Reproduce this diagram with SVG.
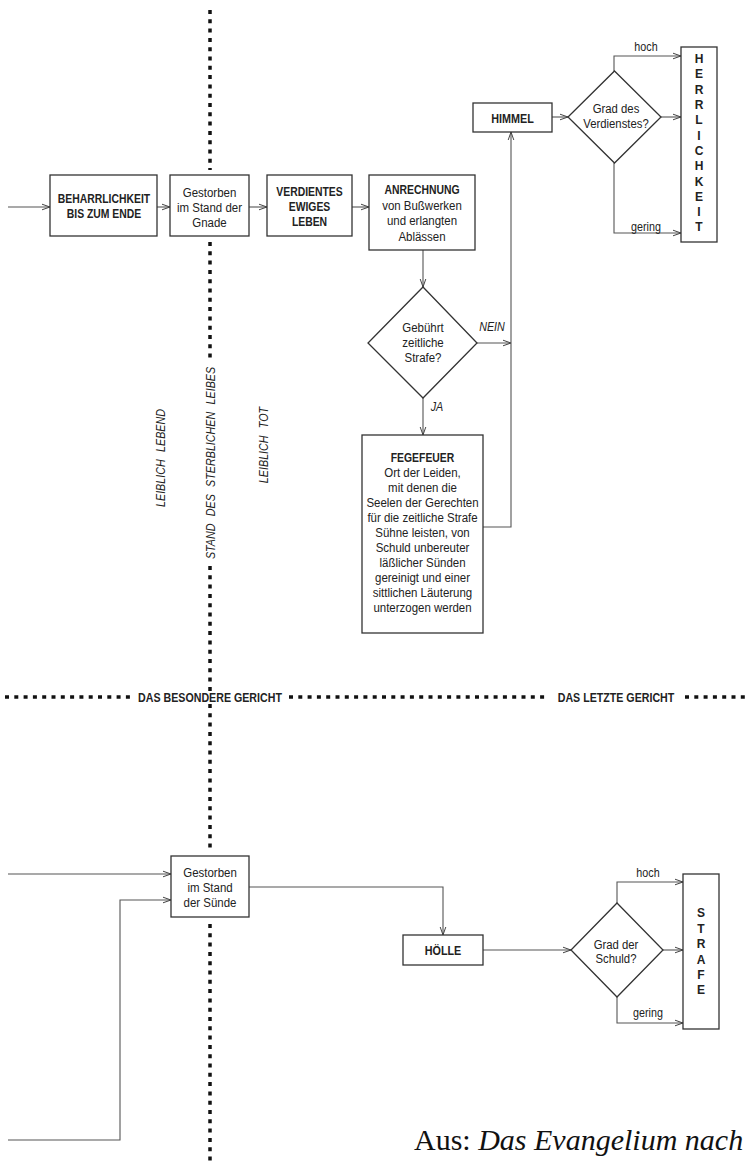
<svg xmlns="http://www.w3.org/2000/svg" width="749" height="1162" viewBox="0 0 749 1162">
<defs>
<marker id="arr" markerWidth="10" markerHeight="8" refX="9" refY="4" orient="auto" markerUnits="userSpaceOnUse">
<path d="M1,1.2 L9,4 L1,6.8" fill="none" stroke="#444" stroke-width="1"/>
</marker>
<style>
.box{fill:#fff;stroke:#333;stroke-width:1.3}
.ln{fill:none;stroke:#555;stroke-width:1.1}
.dot{fill:none;stroke:#111;stroke-width:3.5;stroke-dasharray:4 5.3}
text{font-family:"Liberation Sans",Arial,sans-serif;fill:#222;text-anchor:middle}
.t{font-size:13.5px}
.b{font-size:13.5px;font-weight:bold}
.i{font-size:12.5px;font-style:italic}
.s{font-size:12.5px}
.h{font-size:12px;font-weight:bold}
.g{font-size:13px;font-weight:bold}
</style>
</defs>
<rect width="749" height="1162" fill="#fff"/>

<g id="dividers">
<line class="dot" x1="210" y1="10" x2="210" y2="170"/>
<line class="dot" x1="210" y1="242" x2="210" y2="360"/>
<line class="dot" x1="210" y1="566" x2="210" y2="692"/>
<line class="dot" x1="210" y1="704" x2="210" y2="852"/>
<line class="dot" x1="210" y1="924" x2="210" y2="1162"/>
<line class="dot" x1="5" y1="697" x2="132" y2="697"/>
<line class="dot" x1="289" y1="697" x2="548" y2="697"/>
<line class="dot" x1="685" y1="697" x2="749" y2="697"/>
<text class="i" transform="translate(214.5,463) rotate(-90) scale(0.86,1)" style="word-spacing:5px">STAND DES STERBLICHEN LEIBES</text>
<text class="i" transform="translate(164.5,458) rotate(-90) scale(0.86,1)" style="word-spacing:5px">LEIBLICH LEBEND</text>
<text class="i" transform="translate(267.5,445) rotate(-90) scale(0.86,1)" style="word-spacing:5px">LEIBLICH TOT</text>
<text class="g" transform="translate(210,701.5) scale(0.82,1)">DAS BESONDERE GERICHT</text>
<text class="g" transform="translate(616,701.5) scale(0.82,1)">DAS LETZTE GERICHT</text>
</g>

<g id="connectors">
<line class="ln" x1="8" y1="207" x2="50" y2="207" marker-end="url(#arr)"/>
<line class="ln" x1="157" y1="207" x2="170" y2="207" marker-end="url(#arr)"/>
<line class="ln" x1="249" y1="207" x2="267" y2="207" marker-end="url(#arr)"/>
<line class="ln" x1="352" y1="207" x2="369" y2="207" marker-end="url(#arr)"/>
<line class="ln" x1="423" y1="250" x2="423" y2="287" marker-end="url(#arr)"/>
<line class="ln" x1="477" y1="343" x2="511" y2="343" marker-end="url(#arr)"/>
<line class="ln" x1="423" y1="398" x2="423" y2="435" marker-end="url(#arr)"/>
<polyline class="ln" points="483,527 511,527 511,132" marker-end="url(#arr)"/>
<line class="ln" x1="552" y1="117" x2="568" y2="117" marker-end="url(#arr)"/>
<polyline class="ln" points="614,71 614,56 681,56" marker-end="url(#arr)"/>
<line class="ln" x1="661" y1="117" x2="681" y2="117" marker-end="url(#arr)"/>
<polyline class="ln" points="614,163 614,233 681,233" marker-end="url(#arr)"/>
<line class="ln" x1="8" y1="874" x2="171" y2="874" marker-end="url(#arr)"/>
<polyline class="ln" points="8,1140 120,1140 120,900 171,900" marker-end="url(#arr)"/>
<polyline class="ln" points="249,887 443,887 443,935" marker-end="url(#arr)"/>
<line class="ln" x1="483" y1="950" x2="571" y2="950" marker-end="url(#arr)"/>
<polyline class="ln" points="617,903 617,882 683,882" marker-end="url(#arr)"/>
<line class="ln" x1="663" y1="950" x2="683" y2="950" marker-end="url(#arr)"/>
<polyline class="ln" points="617,997 617,1023 683,1023" marker-end="url(#arr)"/>
<text class="i" transform="translate(492,331) scale(0.86,1)">NEIN</text>
<text class="i" transform="translate(437,411) scale(0.86,1)">JA</text>
<text class="s" transform="translate(646,51) scale(0.86,1)">hoch</text>
<text class="s" transform="translate(646,231) scale(0.86,1)">gering</text>
<text class="s" transform="translate(648,877) scale(0.86,1)">hoch</text>
<text class="s" transform="translate(648,1017) scale(0.86,1)">gering</text>
</g>

<g id="beharrlichkeit">
<rect class="box" x="50" y="175" width="107" height="61"/>
<text class="b" transform="translate(104,202.5) scale(0.77,1)">BEHARRLICHKEIT</text>
<text class="b" transform="translate(104,217.5) scale(0.77,1)">BIS ZUM ENDE</text>
</g>
<g id="gestorben-gnade">
<rect class="box" x="170" y="175" width="79" height="61"/>
<text class="t" transform="translate(209.5,196.5) scale(0.85,1)">Gestorben</text>
<text class="t" transform="translate(209.5,211.5) scale(0.85,1)">im Stand der</text>
<text class="t" transform="translate(209.5,226.5) scale(0.85,1)">Gnade</text>
</g>
<g id="verdientes">
<rect class="box" x="267" y="175" width="85" height="61"/>
<text class="b" transform="translate(309.5,195.5) scale(0.77,1)">VERDIENTES</text>
<text class="b" transform="translate(309.5,210.5) scale(0.77,1)">EWIGES</text>
<text class="b" transform="translate(309.5,225.5) scale(0.77,1)">LEBEN</text>
</g>
<g id="anrechnung">
<rect class="box" x="369" y="175" width="106" height="75"/>
<text class="b" transform="translate(422,193.5) scale(0.77,1)">ANRECHNUNG</text>
<text class="t" transform="translate(422,209.5) scale(0.85,1)">von Bußwerken</text>
<text class="t" transform="translate(422,224.5) scale(0.85,1)">und erlangten</text>
<text class="t" transform="translate(422,240.5) scale(0.85,1)">Ablässen</text>
</g>
<g id="gebuehrt">
<polygon class="box" points="423,287 477,343 423,398 368,343"/>
<text class="t" transform="translate(423,331.5) scale(0.85,1)">Gebührt</text>
<text class="t" transform="translate(423,346.5) scale(0.85,1)">zeitliche</text>
<text class="t" transform="translate(423,361.5) scale(0.85,1)">Strafe?</text>
</g>
<g id="fegefeuer">
<rect class="box" x="362" y="435" width="121" height="198"/>
<text class="b" transform="translate(422.5,461.5) scale(0.77,1)">FEGEFEUER</text>
<text class="t" transform="translate(422.5,476.5) scale(0.85,1)">Ort der Leiden,</text>
<text class="t" transform="translate(422.5,491.5) scale(0.85,1)">mit denen die</text>
<text class="t" transform="translate(422.5,506.5) scale(0.85,1)">Seelen der Gerechten</text>
<text class="t" transform="translate(422.5,521.5) scale(0.85,1)">für die zeitliche Strafe</text>
<text class="t" transform="translate(422.5,536.5) scale(0.85,1)">Sühne leisten, von</text>
<text class="t" transform="translate(422.5,551.5) scale(0.85,1)">Schuld unbereuter</text>
<text class="t" transform="translate(422.5,566.5) scale(0.85,1)">läßlicher Sünden</text>
<text class="t" transform="translate(422.5,581.5) scale(0.85,1)">gereinigt und einer</text>
<text class="t" transform="translate(422.5,596.5) scale(0.85,1)">sittlichen Läuterung</text>
<text class="t" transform="translate(422.5,611.5) scale(0.85,1)">unterzogen werden</text>
</g>
<g id="himmel">
<rect class="box" x="473" y="103" width="79" height="29"/>
<text class="b" transform="translate(512.5,122.5) scale(0.8,1)">HIMMEL</text>
</g>
<g id="grad-verdienst">
<polygon class="box" points="614.5,71 661,117 614.5,163 568,117"/>
<text class="t" transform="translate(616,112.5) scale(0.84,1)">Grad des</text>
<text class="t" transform="translate(616,127.5) scale(0.84,1)">Verdienstes?</text>
</g>
<g id="herrlichkeit">
<rect class="box" x="681" y="47" width="36" height="195"/>
<text class="h" x="699" y="63">H</text>
<text class="h" x="699" y="78">E</text>
<text class="h" x="699" y="94">R</text>
<text class="h" x="699" y="109">R</text>
<text class="h" x="699" y="124">L</text>
<text class="h" x="699" y="140">I</text>
<text class="h" x="699" y="155">C</text>
<text class="h" x="699" y="170">H</text>
<text class="h" x="699" y="186">K</text>
<text class="h" x="699" y="201">E</text>
<text class="h" x="699" y="216">I</text>
<text class="h" x="699" y="231">T</text>
</g>
<g id="gestorben-suende">
<rect class="box" x="171" y="856" width="78" height="61"/>
<text class="t" transform="translate(210,876.5) scale(0.85,1)">Gestorben</text>
<text class="t" transform="translate(210,891.5) scale(0.85,1)">im Stand</text>
<text class="t" transform="translate(210,906.5) scale(0.85,1)">der Sünde</text>
</g>
<g id="hoelle">
<rect class="box" x="403" y="935" width="80" height="30"/>
<text class="b" transform="translate(443,954.5) scale(0.8,1)">HÖLLE</text>
</g>
<g id="grad-schuld">
<polygon class="box" points="617,903 663,950 617,997 571,950"/>
<text class="t" transform="translate(616,948.5) scale(0.84,1)">Grad der</text>
<text class="t" transform="translate(616,962.5) scale(0.84,1)">Schuld?</text>
</g>
<g id="strafe">
<rect class="box" x="683" y="874" width="36" height="155"/>
<text class="h" x="701" y="917">S</text>
<text class="h" x="701" y="933">T</text>
<text class="h" x="701" y="948">R</text>
<text class="h" x="701" y="964">A</text>
<text class="h" x="701" y="979">F</text>
<text class="h" x="701" y="994">E</text>
</g>
<text x="414" y="1150" style="font-family:'Liberation Serif','Times New Roman',serif;font-size:30px;fill:#111;text-anchor:start">Aus: <tspan font-style="italic">Das Evangelium nach</tspan></text>
</svg>
